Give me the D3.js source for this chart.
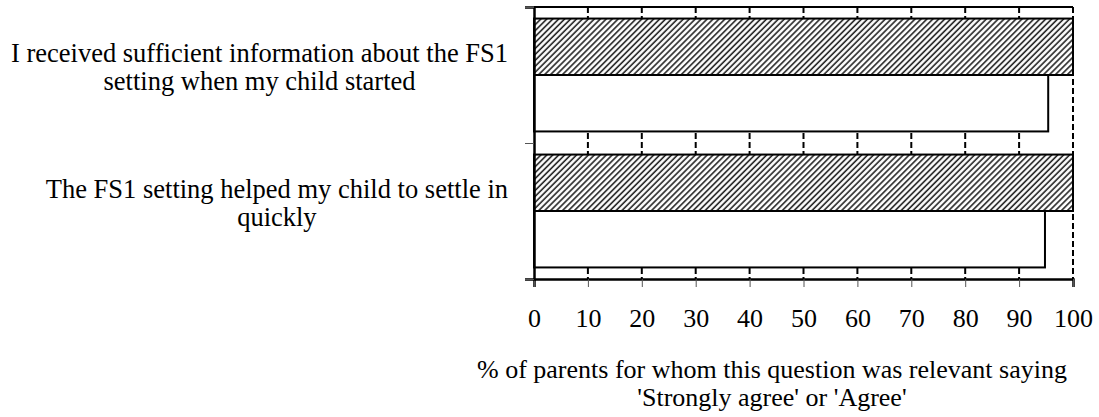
<!DOCTYPE html>
<html>
<head>
<meta charset="utf-8">
<script src="https://cdn.jsdelivr.net/npm/d3@7"></script>
</head>
<body style="margin:0;background:#fff">
<div id="chart"></div>
<script>
// Data
var categories = [
  "I received sufficient information about the FS1 setting when my child started",
  "The FS1 setting helped my child to settle in quickly"
];
var seriesNames = ["Series 1", "Series 2"];
var series1Values = [100, 100];
var series2Values = [95.4, 94.8];
var xTicks = [0, 10, 20, 30, 40, 50, 60, 70, 80, 90, 100];
var xTitleLines = [
  "% of parents for whom this question was relevant saying",
  "'Strongly agree' or 'Agree'"
];

// Set up our chart
var svgWidth = 1099;
var svgHeight = 417;
var margin = { top: 7, right: 26, bottom: 138, left: 534 };
var width = svgWidth - margin.left - margin.right;
var height = svgHeight - margin.top - margin.bottom;
var fontSize = 26.5;
var serif = "Liberation Serif, serif";

var svg = d3.select("#chart")
  .append("svg")
  .attr("width", svgWidth)
  .attr("height", svgHeight);

// hatch pattern for the first series
var defs = svg.append("defs");
defs.append("pattern")
  .attr("id", "hatch")
  .attr("patternUnits", "userSpaceOnUse")
  .attr("width", 4.2)
  .attr("height", 4.2)
  .attr("patternTransform", "rotate(45)")
  .call(p => {
    p.append("rect").attr("width", 4.2).attr("height", 4.2).attr("fill", "#fff");
    p.append("line")
      .attr("x1", 1).attr("y1", 0).attr("x2", 1).attr("y2", 4.2)
      .attr("stroke", "#222").attr("stroke-width", 1.6);
  });

var chartGroup = svg.append("g")
  .attr("transform", `translate(${margin.left}, ${margin.top})`);

var xScale = d3.scaleLinear().domain([0, 100]).range([0, width]);
var yScale = d3.scaleBand().domain(categories).range([0, height])
  .paddingInner(0.17).paddingOuter(0.085);
var ySub = d3.scaleBand().domain(seriesNames).range([0, yScale.bandwidth()]);
var yEdge = d3.scaleLinear().domain([0, categories.length]).range([0, height]);

// dashed gridlines
chartGroup.append("g")
  .selectAll("line")
  .data(xTicks.filter(d => d > 0))
  .enter()
  .append("line")
  .attr("x1", d => xScale(d))
  .attr("x2", d => xScale(d))
  .attr("y1", 0)
  .attr("y2", height)
  .attr("stroke", "#000")
  .attr("stroke-width", 2)
  .attr("stroke-dasharray", "6,3");

// top border
chartGroup.append("line")
  .attr("x1", 0).attr("x2", width)
  .attr("y1", 0).attr("y2", 0)
  .attr("stroke", "#000").attr("stroke-width", 2);

// bars
var rows = categories.map((c, i) => ({ cat: c, vals: [series1Values[i], series2Values[i]] }));
var catGroups = chartGroup.selectAll(".cat")
  .data(rows)
  .enter()
  .append("g")
  .attr("transform", d => `translate(0, ${yScale(d.cat)})`);

catGroups.selectAll("rect")
  .data(d => d.vals.map((v, j) => ({ name: seriesNames[j], value: v })))
  .enter()
  .append("rect")
  .attr("x", 0)
  .attr("y", d => ySub(d.name))
  .attr("width", d => xScale(d.value))
  .attr("height", ySub.bandwidth())
  .attr("fill", (d, j) => j === 0 ? "url(#hatch)" : "#fff")
  .attr("stroke", "#000")
  .attr("stroke-width", 2);

// x axis
var bottomAxis = d3.axisBottom(xScale).tickValues(xTicks).tickSize(8).tickPadding(22);
var xAxis = chartGroup.append("g")
  .attr("transform", `translate(0, ${height})`)
  .call(bottomAxis)
  .attr("font-family", serif)
  .attr("font-size", 26);
xAxis.select(".domain").attr("stroke-width", 2.5);
xAxis.selectAll(".tick line").attr("stroke", "#555").attr("stroke-width", 1);
xAxis.selectAll("text").attr("fill", "#000");

// y axis (category boundaries)
var leftAxis = d3.axisLeft(yEdge).tickValues(d3.range(categories.length + 1))
  .tickSize(9).tickFormat("");
var yAxis = chartGroup.append("g").call(leftAxis);
yAxis.select(".domain").attr("stroke-width", 2.5);
yAxis.selectAll(".tick line").attr("stroke", "#555").attr("stroke-width", 1);

// text group with the same font settings as the axis
var textGroup = svg.append("g")
  .attr("font-family", serif)
  .attr("font-size", fontSize)
  .attr("fill", "#000");

function measure(str) {
  var t = textGroup.append("text").text(str);
  var w = t.node().getComputedTextLength();
  t.remove();
  return w;
}

// category labels, wrapped and centered
var labelRight = margin.left - 26;
var maxLabelWidth = 515;
rows.forEach(function(r) {
  var words = r.cat.split(" ");
  var lines = [];
  var line = [];
  words.forEach(function(w) {
    line.push(w);
    if (measure(line.join(" ")) > maxLabelWidth && line.length > 1) {
      line.pop();
      lines.push(line.join(" "));
      line = [w];
    }
  });
  lines.push(line.join(" "));
  var widest = d3.max(lines, measure);
  var cx = labelRight - widest / 2;
  var cy = margin.top + yScale(r.cat) + yScale.bandwidth() / 2;
  var lineH = 28;
  var firstBase = cy - (lines.length - 1) * lineH / 2 + 1;
  lines.forEach(function(l, k) {
    textGroup.append("text")
      .attr("text-anchor", "middle")
      .attr("x", cx)
      .attr("y", firstBase + k * lineH)
      .text(l);
  });
});

// x axis title
var titleGroup = svg.append("g")
  .attr("font-family", serif)
  .attr("font-size", 26)
  .attr("fill", "#000");
var probe = titleGroup.append("text").text(xTitleLines[0]);
var titleW = probe.node().getComputedTextLength();
probe.remove();
var titleX = 477 + titleW / 2;
xTitleLines.forEach(function(l, k) {
  titleGroup.append("text")
    .attr("text-anchor", "middle")
    .attr("x", titleX)
    .attr("y", 378 + k * 28)
    .text(l);
});
</script>
</body>
</html>
